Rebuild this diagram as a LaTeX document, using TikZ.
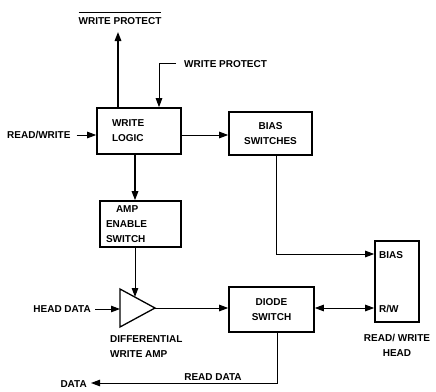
\documentclass[tikz,border=0pt]{standalone}
\usepackage{fontspec}
\setmainfont{Liberation Sans}
\usetikzlibrary{arrows.meta}
\begin{document}
\begin{tikzpicture}[x=1pt,y=-1pt,
  font=\bfseries\fontsize{10}{15}\selectfont,
  blk/.style={draw, line width=1.6pt, inner ysep=0pt},
  lbl/.style={inner sep=0pt},
  tip/.style={-{Triangle[length=9pt,width=6.5pt]}},
  conn/.style={line width=1pt, tip},
  bconn/.style={line width=1.6pt, tip}]
\useasboundingbox (0,0) rectangle (436,391);
% blocks
\node[blk, minimum width=84pt, minimum height=46pt, text width=54pt, inner xsep=15pt, align=left] (wl) at (139,131) {WRITE\\LOGIC};
\node[blk, minimum width=83pt, minimum height=43pt, align=center] (bs) at (270.5,133.5) {BIAS\\SWITCHES};
\node[blk, minimum width=81pt, minimum height=46pt, text width=69pt, inner xsep=6pt, align=left] (aes) at (140.5,224) {\hspace*{10pt}AMP\\ENABLE\\SWITCH};
\node[blk, minimum width=85pt, minimum height=45pt, align=center] (ds) at (271.5,309.5) {DIODE\\SWITCH};
\node[blk, minimum width=44pt, minimum height=81pt] (head) at (397,281.5) {};
\node[lbl, anchor=west] (hbias) at (379,255) {BIAS};
\node[lbl, anchor=west] (hrw) at (379,309) {R/W};
% amplifier triangle
\coordinate (ampT) at (120,289);
\coordinate (ampB) at (120,327);
\coordinate (ampO) at (155,308);
\coordinate (ampI) at (135,297);
\draw[line width=1.3pt, line join=miter] (ampT) -- (ampO) -- (ampB) -- cycle;
% labels
\node[lbl] (wpbar) at (120,18) {$\overline{\mbox{\bfseries\rule{0pt}{10.5pt}WRITE PROTECT}}$};
\node[lbl, anchor=west] (wp) at (184,64) {WRITE PROTECT};
\node[lbl, anchor=west] (rw) at (7,135) {READ/WRITE};
\node[lbl, anchor=east] (hd) at (91,309) {HEAD DATA};
\node[lbl, anchor=west, align=left] (dwa) at (110,347) {DIFFERENTIAL\\WRITE AMP};
\node[lbl, align=center] (rwh) at (397,345) {READ/ WRITE\\HEAD};
\node[lbl] (rd) at (213,377) {READ DATA};
\node[lbl, anchor=east] (data) at (87,384) {DATA};
% connector coordinates
\coordinate (wpOut) at (118,32);
\coordinate (wpIn) at (176,63);
\coordinate (wpC) at (159,63);
\coordinate (dataTip) at (91,383);
\coordinate (dsC) at (277,383);
\coordinate (bsC) at (276,254);
% connectors
\draw[bconn] (wl.north -| wpOut) -- (wpOut);
\draw[conn] (wpIn) -- (wpC) -- (wpC |- wl.north);
\draw[conn] ([xshift=6pt]rw.east) -- (rw.east -| wl.west);
\draw[conn] (wl.east |- 0,135) -- (bs.west |- 0,135);
\draw[bconn] (wl.south -| 135,0) -- (aes.north -| 135,0);
\draw[conn] (aes.south -| ampI) -- (ampI);
\draw[conn] ([xshift=4pt]hd.east) -- (ampT |- hd.east);
\draw[conn] (ampO) -- (ds.west |- ampO);
\draw[conn] (bs.south -| bsC) -- (bsC) -- (head.west |- bsC);
\draw[line width=1pt, {Triangle[length=9pt,width=6.5pt]}-{Triangle[length=9pt,width=6.5pt]}] (ds.east |- 0,308) -- (head.west |- 0,308);
\draw[conn] (ds.south -| dsC) -- (dsC) -- (dataTip);
\end{tikzpicture}
\end{document}
